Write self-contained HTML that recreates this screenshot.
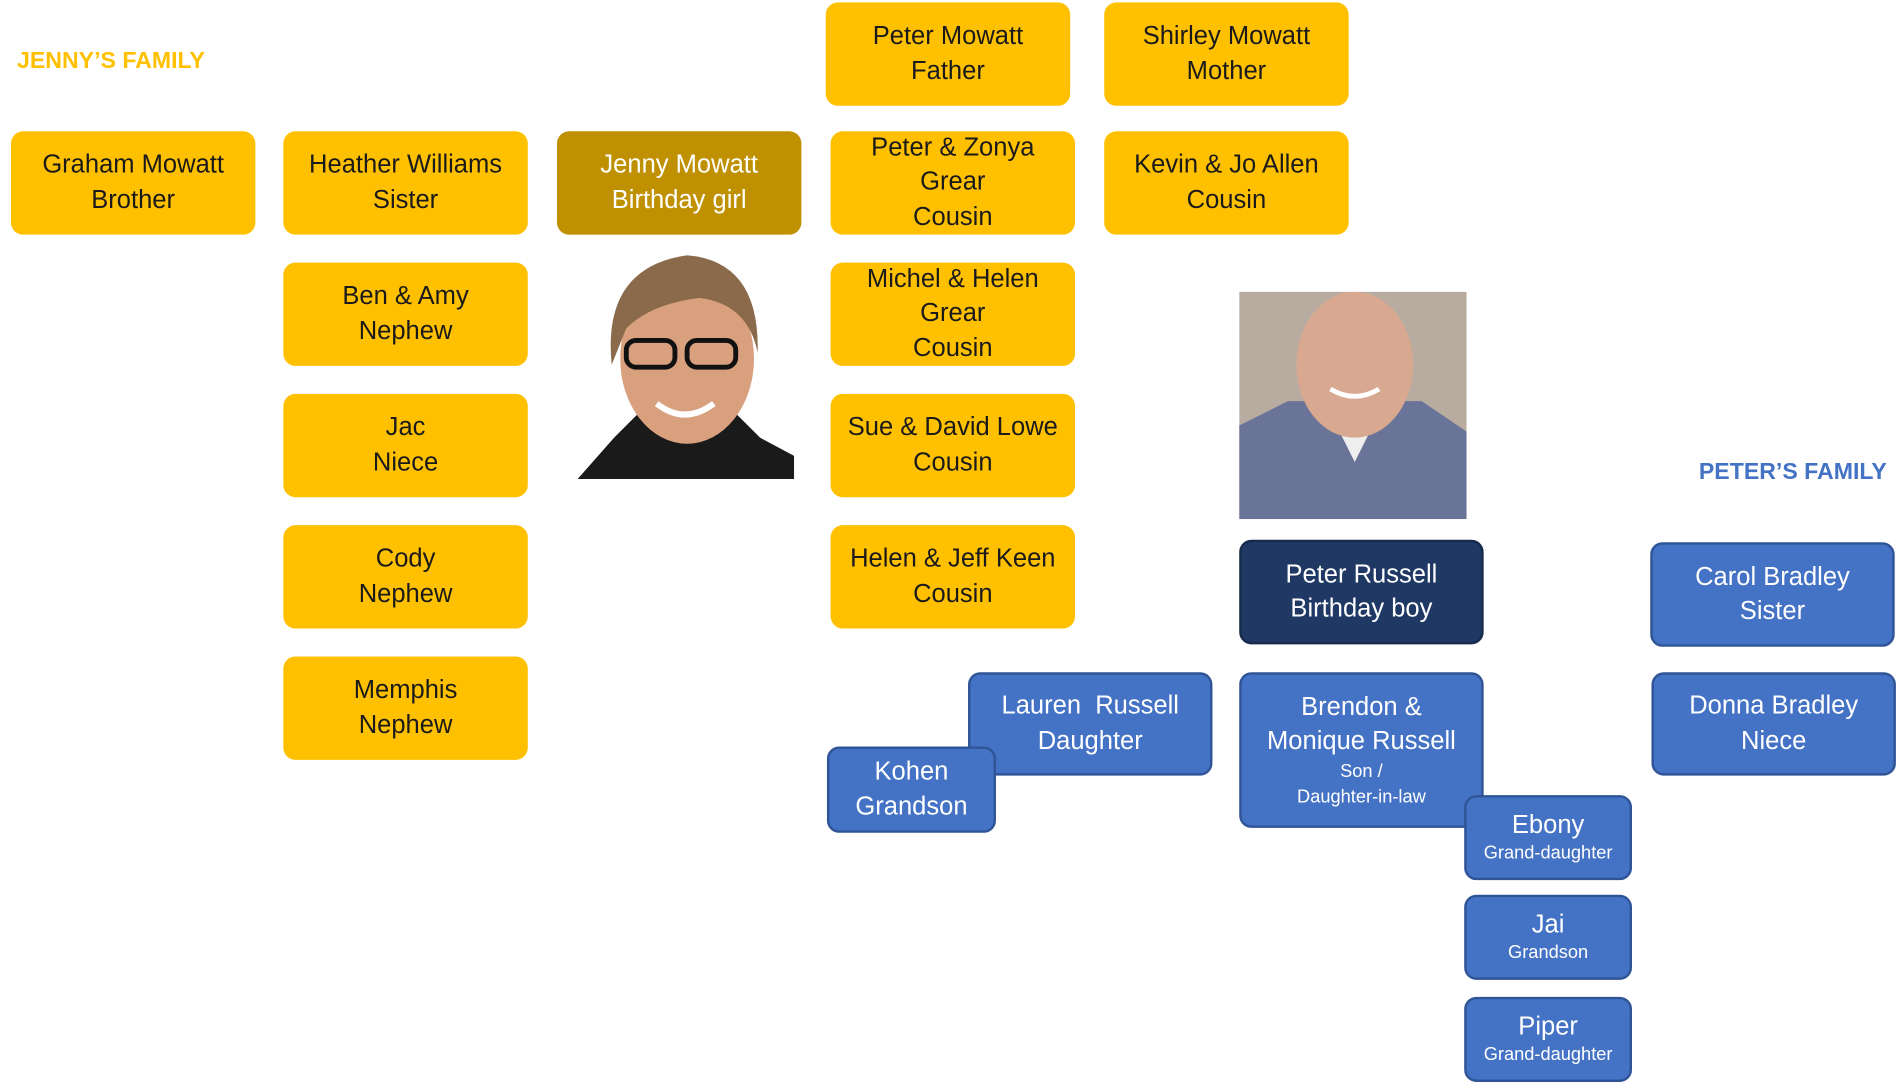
<!DOCTYPE html>
<html><head><meta charset="utf-8"><style>
html,body{margin:0;padding:0;background:#fff;overflow:hidden;width:1902px;height:1082px}
#w{position:absolute;left:0;top:0;width:1564px;height:890px;transform-origin:0 0;transform:scale(1.2161,1.2157)}
.b{position:absolute;box-sizing:border-box;border-radius:10px;display:flex;flex-direction:column;justify-content:center;align-items:center;text-align:center;font-family:"Liberation Sans",sans-serif;font-size:21px;line-height:28.5px;color:#1a1a1a}
.y{background:#FFC000}
.u{background:#4472C4;border:2px solid #2F5597;color:#fff}
.s{font-size:15px;line-height:21px}
.t{position:absolute;font-family:"Liberation Sans",sans-serif;font-weight:bold;font-size:19px}
</style></head><body><div id="w">
<div class="t" style="left:14px;top:40px;color:#FFC000">JENNY’S FAMILY</div>
<div class="t" style="left:1397px;top:378px;color:#4472C4">PETER’S FAMILY</div>

<div class="b y" style="left:679px;top:2px;width:201px;height:85px">Peter Mowatt<br>Father</div>
<div class="b y" style="left:908px;top:2px;width:201px;height:85px">Shirley Mowatt<br>Mother</div>
<div class="b y" style="left:9px;top:108px;width:201px;height:85px">Graham Mowatt<br>Brother</div>
<div class="b y" style="left:233px;top:108px;width:201px;height:85px">Heather Williams<br>Sister</div>
<div class="b" style="left:458px;top:108px;width:201px;height:85px;background:#BF9000;color:#fff">Jenny Mowatt<br>Birthday girl</div>
<div class="b y" style="left:683px;top:108px;width:201px;height:85px">Peter &amp; Zonya<br>Grear<br>Cousin</div>
<div class="b y" style="left:908px;top:108px;width:201px;height:85px">Kevin &amp; Jo Allen<br>Cousin</div>
<div class="b y" style="left:233px;top:216px;width:201px;height:85px">Ben &amp; Amy<br>Nephew</div>
<div class="b y" style="left:683px;top:216px;width:201px;height:85px">Michel &amp; Helen<br>Grear<br>Cousin</div>
<div class="b y" style="left:233px;top:324px;width:201px;height:85px">Jac<br>Niece</div>
<div class="b y" style="left:683px;top:324px;width:201px;height:85px">Sue &amp; David Lowe<br>Cousin</div>
<div class="b y" style="left:233px;top:432px;width:201px;height:85px">Cody<br>Nephew</div>
<div class="b y" style="left:683px;top:432px;width:201px;height:85px">Helen &amp; Jeff Keen<br>Cousin</div>
<div class="b y" style="left:233px;top:540px;width:201px;height:85px">Memphis<br>Nephew</div>

<svg style="position:absolute;left:475px;top:210px" width="178" height="184">
<path d="M0 184 L30 150 L50 130 L130 130 L150 150 L178 165 L178 184Z" fill="#1a1a1a"/>
<ellipse cx="90" cy="85" rx="55" ry="70" fill="#d9a07e"/>
<path d="M28 90 Q20 10 90 0 Q150 5 148 80 Q140 40 100 35 Q60 40 40 60Z" fill="#8a6a4a"/>
<rect x="40" y="70" width="40" height="22" rx="8" fill="none" stroke="#111" stroke-width="4"/>
<rect x="90" y="70" width="40" height="22" rx="8" fill="none" stroke="#111" stroke-width="4"/>
<path d="M65 122 Q88 140 112 122" stroke="#fff" stroke-width="5" fill="none"/>
</svg>

<svg style="position:absolute;left:1019px;top:240px" width="187" height="187">
<rect width="187" height="187" fill="#b8aca0"/>
<path d="M0 187 L0 110 L40 90 L150 90 L187 115 L187 187Z" fill="#6a7498"/>
<path d="M70 90 L95 140 L120 90Z" fill="#eee"/>
<ellipse cx="95" cy="60" rx="48" ry="60" fill="#d8a890"/>
<path d="M75 80 Q95 92 115 80" stroke="#fff" stroke-width="4" fill="none"/>
</svg>

<div class="b" style="left:1019px;top:444px;width:201px;height:86px;background:#1F3864;border:2px solid #172b4d;color:#fff">Peter Russell<br>Birthday boy</div>
<div class="b u" style="left:1357px;top:446px;width:201px;height:86px">Carol Bradley<br>Sister</div>
<div class="b u" style="left:796px;top:553px;width:201px;height:85px">Lauren&nbsp; Russell<br>Daughter</div>
<div class="b u" style="left:680px;top:614px;width:139px;height:71px">Kohen<br>Grandson</div>
<div class="b u" style="left:1019px;top:553px;width:201px;height:128px;line-height:28px">Brendon &amp;<br>Monique Russell<span class="s">Son /<br>Daughter-in-law</span></div>
<div class="b u" style="left:1358px;top:553px;width:201px;height:85px">Donna Bradley<br>Niece</div>
<div class="b u" style="left:1204px;top:654px;width:138px;height:70px;line-height:25px">Ebony<span class="s">Grand-daughter</span></div>
<div class="b u" style="left:1204px;top:736px;width:138px;height:70px;line-height:25px">Jai<span class="s">Grandson</span></div>
<div class="b u" style="left:1204px;top:820px;width:138px;height:70px;line-height:25px">Piper<span class="s">Grand-daughter</span></div>
</div></body></html>
